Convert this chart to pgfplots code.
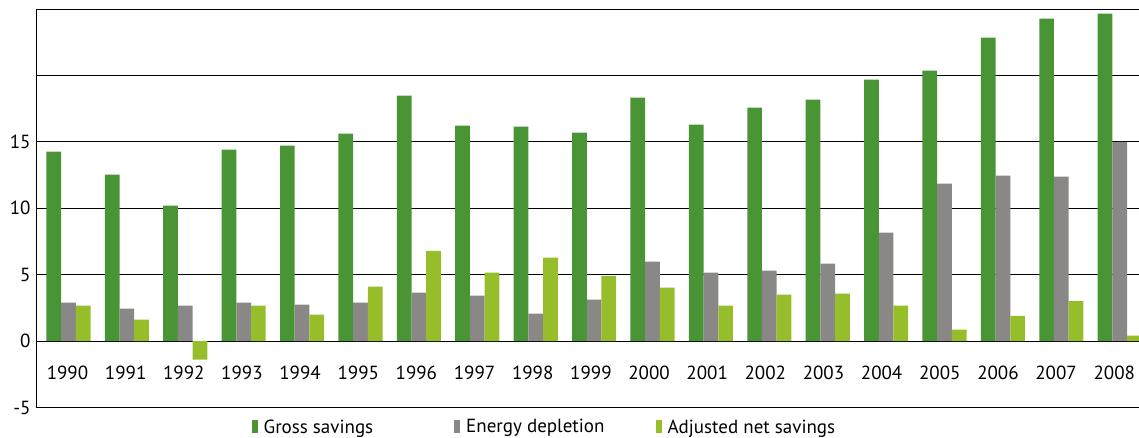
\documentclass[border=0pt]{standalone}
\usepackage{fontspec}
\setmainfont{PT Sans}
\usepackage{pgfplots}
\usepackage{pgfplotstable}
\pgfplotsset{compat=1.18}
\definecolor{gross}{RGB}{73,149,54}
\definecolor{energy}{RGB}{138,136,134}
\definecolor{adj}{RGB}{150,190,42}
\pgfplotstableread{
idx gross energy adj
0 14.26 2.89 2.67
1 12.53 2.44 1.61
2 10.20 2.67 -1.40
3 14.41 2.89 2.67
4 14.71 2.74 1.99
5 15.62 2.89 4.10
6 18.48 3.64 6.80
7 16.22 3.42 5.15
8 16.14 2.06 6.28
9 15.69 3.12 4.90
10 18.33 5.98 4.02
11 16.30 5.15 2.67
12 17.57 5.30 3.50
13 18.18 5.83 3.57
14 19.68 8.16 2.67
15 20.36 11.85 0.86
16 22.84 12.45 1.90
17 24.28 12.38 3.01
18 24.65 15.00 0.41
}\datatable
\begin{document}
\begin{tikzpicture}[x=1pt,y=1pt]
\useasboundingbox (0,0) rectangle (1139,438);
\begin{axis}[
  at={(36pt,30.5pt)}, anchor=south west,
  scale only axis, width=1103pt, height=398.5pt,
  ybar=0pt, bar width=14.7pt,
  xmin=-0.556, xmax=18.33,
  ymin=-5, ymax=25,
  axis lines=left, axis line style={-, line width=0.8pt, black},
  xtick={-0.017,0.979,1.974,2.970,3.966,4.962,5.957,6.953,7.949,8.945,9.940,10.936,11.932,12.927,13.923,14.919,15.915,16.910,17.906},
  xticklabels={1990,1991,1992,1993,1994,1995,1996,1997,1998,1999,2000,2001,2002,2003,2004,2005,2006,2007,2008},
  ytick={-5,0,5,10,15,20,25},
  yticklabels={-5,0,5,10,15,{},{}},
  major tick length=0pt,
  ymajorgrids, grid style={line width=0.8pt, black},
  tick label style={font=\fontsize{19}{22}\selectfont},
  xticklabel style={anchor=center, yshift=34.5pt},
  yticklabel style={xshift=-2pt},
  legend style={draw=none, fill=none, at={(0.1926,-0.049)}, anchor=west,
    font=\fontsize{19}{22}\selectfont, legend columns=3,
    /tikz/column 1/.style={column sep=4pt},
    /tikz/column 2/.style={column sep=79pt},
    /tikz/column 3/.style={column sep=4pt},
    /tikz/column 4/.style={column sep=49pt},
    /tikz/column 5/.style={column sep=4pt}},
  legend image code/.code={\fill[#1] (0pt,-6pt) rectangle (6pt,7pt);},
]
\addplot[fill=gross, draw=none] table[x=idx,y=gross]{\datatable};
\addplot[fill=energy, draw=none] table[x=idx,y=energy]{\datatable};
\addplot[fill=adj, draw=none] table[x=idx,y=adj]{\datatable};
\legend{Gross savings, Energy depletion, Adjusted net savings}
\end{axis}
\end{tikzpicture}
\end{document}
